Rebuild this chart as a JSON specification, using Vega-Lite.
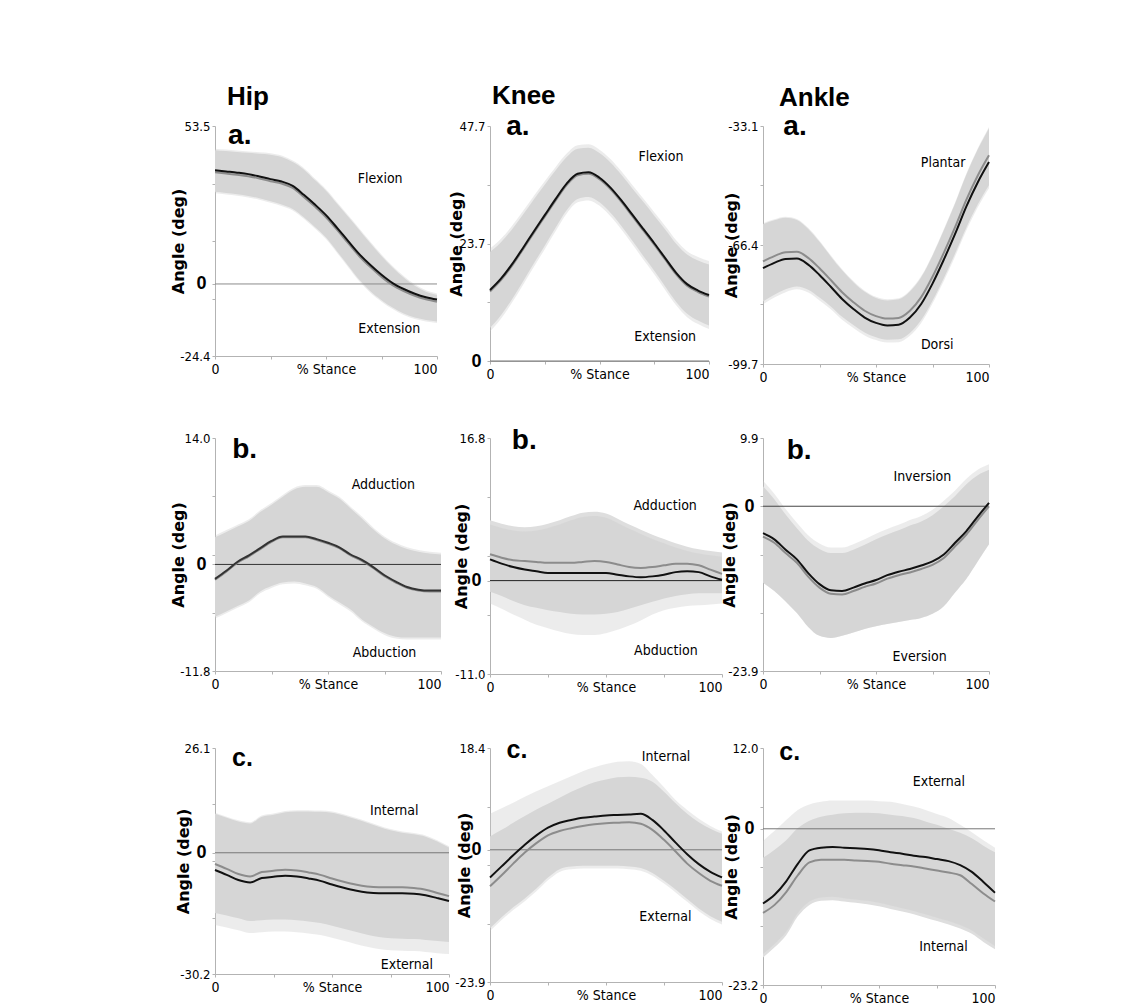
{
"$schema": "https://vega.github.io/schema/vega-lite/v6.json",
"padding": {"left": 170, "top": 83, "right": 10, "bottom": 0},
"columns": 3,
"bounds": "flush",
"spacing": {"row": 74, "column": 41},
"config": {
 "view": {"stroke": null},
 "axis": {"domainColor": "#b3b3b3", "tickColor": "#b3b3b3", "tickSize": 3, "grid": false, "labelColor": "#000", "labelFont": "DejaVu Sans Condensed, Roboto, sans-serif", "titleFont": "DejaVu Sans", "titleFontWeight": "bold", "titleFontSize": 16, "titleColor": "#000", "labelOverlap": false},
 "title": {"font": "Liberation Sans", "fontSize": 26, "fontWeight": "bold", "anchor": "start", "frame": "group", "baseline": "alphabetic", "color": "#000"}
},
"datasets": {
"d": [
{"p":"ha","x":0,"a":38.5,"b":37.8,"l1":31.2,"h1":45.3,"l2":30.7,"h2":45.8},
{"p":"ha","x":5,"a":38.1,"b":37.4,"l1":30.8,"h1":45.0,"l2":30.3,"h2":45.5},
{"p":"ha","x":10,"a":37.7,"b":37.0,"l1":30.4,"h1":44.7,"l2":29.9,"h2":45.2},
{"p":"ha","x":15,"a":37.2,"b":36.5,"l1":29.8,"h1":44.4,"l2":29.3,"h2":44.9},
{"p":"ha","x":20,"a":36.4,"b":35.7,"l1":29.0,"h1":44.1,"l2":28.5,"h2":44.6},
{"p":"ha","x":25,"a":35.5,"b":34.8,"l1":28.0,"h1":43.8,"l2":27.5,"h2":44.3},
{"p":"ha","x":30,"a":34.7,"b":34.0,"l1":26.9,"h1":43.0,"l2":26.4,"h2":43.5},
{"p":"ha","x":35,"a":33.2,"b":32.5,"l1":25.4,"h1":41.3,"l2":24.9,"h2":41.8},
{"p":"ha","x":40,"a":30.2,"b":29.5,"l1":22.6,"h1":38.8,"l2":22.1,"h2":39.3},
{"p":"ha","x":45,"a":26.9,"b":26.2,"l1":19.3,"h1":35.2,"l2":18.8,"h2":35.7},
{"p":"ha","x":50,"a":23.3,"b":22.6,"l1":15.7,"h1":31.6,"l2":15.2,"h2":32.1},
{"p":"ha","x":55,"a":19.0,"b":18.3,"l1":11.0,"h1":27.2,"l2":10.5,"h2":27.7},
{"p":"ha","x":60,"a":14.5,"b":13.8,"l1":6.2,"h1":22.8,"l2":5.7,"h2":23.3},
{"p":"ha","x":65,"a":10.1,"b":9.4,"l1":1.4,"h1":18.3,"l2":0.9,"h2":18.8},
{"p":"ha","x":70,"a":6.4,"b":5.7,"l1":-2.5,"h1":13.8,"l2":-3.0,"h2":14.3},
{"p":"ha","x":75,"a":3.1,"b":2.4,"l1":-5.5,"h1":9.5,"l2":-6.0,"h2":10.0},
{"p":"ha","x":80,"a":0.3,"b":-0.4,"l1":-8.0,"h1":5.6,"l2":-8.5,"h2":6.1},
{"p":"ha","x":85,"a":-1.7,"b":-2.4,"l1":-10.0,"h1":2.2,"l2":-10.5,"h2":2.7},
{"p":"ha","x":90,"a":-3.3,"b":-4.0,"l1":-11.4,"h1":-0.6,"l2":-11.9,"h2":-0.1},
{"p":"ha","x":95,"a":-4.5,"b":-5.2,"l1":-12.2,"h1":-2.6,"l2":-12.7,"h2":-2.1},
{"p":"ha","x":100,"a":-5.3,"b":-6.0,"l1":-12.7,"h1":-3.7,"l2":-13.2,"h2":-3.2},
{"p":"ka","x":0,"a":14.4,"b":14.1,"l1":6.7,"h1":22.1,"l2":6.0,"h2":22.8},
{"p":"ka","x":5,"a":16.7,"b":16.4,"l1":9.3,"h1":24.1,"l2":8.6,"h2":24.8},
{"p":"ka","x":10,"a":19.6,"b":19.3,"l1":12.5,"h1":26.7,"l2":11.8,"h2":27.4},
{"p":"ka","x":15,"a":22.9,"b":22.6,"l1":16.1,"h1":29.7,"l2":15.4,"h2":30.4},
{"p":"ka","x":20,"a":26.3,"b":26.0,"l1":19.8,"h1":32.8,"l2":19.1,"h2":33.5},
{"p":"ka","x":25,"a":29.6,"b":29.3,"l1":23.4,"h1":35.8,"l2":22.7,"h2":36.5},
{"p":"ka","x":30,"a":32.9,"b":32.6,"l1":27.1,"h1":38.7,"l2":26.4,"h2":39.4},
{"p":"ka","x":35,"a":36.0,"b":35.7,"l1":30.6,"h1":41.4,"l2":29.9,"h2":42.1},
{"p":"ka","x":40,"a":38.0,"b":37.7,"l1":32.9,"h1":43.1,"l2":32.2,"h2":43.8},
{"p":"ka","x":45,"a":38.3,"b":38.0,"l1":33.3,"h1":43.3,"l2":32.6,"h2":44.0},
{"p":"ka","x":50,"a":37.2,"b":36.9,"l1":32.2,"h1":42.2,"l2":31.5,"h2":42.9},
{"p":"ka","x":55,"a":35.2,"b":34.9,"l1":30.1,"h1":40.3,"l2":29.4,"h2":41.0},
{"p":"ka","x":60,"a":32.6,"b":32.3,"l1":27.4,"h1":37.8,"l2":26.7,"h2":38.5},
{"p":"ka","x":65,"a":29.7,"b":29.4,"l1":24.4,"h1":35.0,"l2":23.7,"h2":35.7},
{"p":"ka","x":70,"a":26.8,"b":26.5,"l1":21.3,"h1":32.3,"l2":20.6,"h2":33.0},
{"p":"ka","x":75,"a":23.9,"b":23.6,"l1":18.3,"h1":29.5,"l2":17.6,"h2":30.2},
{"p":"ka","x":80,"a":20.9,"b":20.6,"l1":15.1,"h1":26.7,"l2":14.4,"h2":27.4},
{"p":"ka","x":85,"a":17.9,"b":17.6,"l1":12.0,"h1":23.8,"l2":11.3,"h2":24.5},
{"p":"ka","x":90,"a":15.6,"b":15.3,"l1":9.6,"h1":21.6,"l2":8.9,"h2":22.3},
{"p":"ka","x":95,"a":14.3,"b":14.0,"l1":8.2,"h1":20.4,"l2":7.5,"h2":21.1},
{"p":"ka","x":100,"a":13.4,"b":13.1,"l1":7.2,"h1":19.6,"l2":6.5,"h2":20.3},
{"p":"aa","x":0,"a":-72.9,"b":-71.0,"l1":-82.2,"h1":-60.6,"l2":-83.0,"h2":-60.3},
{"p":"aa","x":5,"a":-71.4,"b":-69.5,"l1":-80.3,"h1":-59.5,"l2":-81.1,"h2":-59.2},
{"p":"aa","x":10,"a":-70.3,"b":-68.4,"l1":-78.8,"h1":-58.8,"l2":-79.6,"h2":-58.5},
{"p":"aa","x":15,"a":-70.2,"b":-68.3,"l1":-78.0,"h1":-59.4,"l2":-78.8,"h2":-59.1},
{"p":"aa","x":20,"a":-71.9,"b":-70.0,"l1":-78.9,"h1":-61.9,"l2":-79.7,"h2":-61.6},
{"p":"aa","x":25,"a":-74.8,"b":-72.9,"l1":-81.1,"h1":-65.5,"l2":-81.9,"h2":-65.2},
{"p":"aa","x":30,"a":-78.1,"b":-76.2,"l1":-83.6,"h1":-69.6,"l2":-84.4,"h2":-69.3},
{"p":"aa","x":35,"a":-81.5,"b":-79.6,"l1":-86.5,"h1":-73.5,"l2":-87.3,"h2":-73.2},
{"p":"aa","x":40,"a":-84.3,"b":-82.4,"l1":-88.8,"h1":-76.8,"l2":-89.6,"h2":-76.5},
{"p":"aa","x":45,"a":-86.7,"b":-84.8,"l1":-90.9,"h1":-79.5,"l2":-91.7,"h2":-79.2},
{"p":"aa","x":50,"a":-88.2,"b":-86.3,"l1":-92.2,"h1":-81.2,"l2":-93.0,"h2":-80.9},
{"p":"aa","x":55,"a":-88.9,"b":-87.0,"l1":-92.9,"h1":-81.9,"l2":-93.7,"h2":-81.6},
{"p":"aa","x":60,"a":-88.7,"b":-86.8,"l1":-92.8,"h1":-81.6,"l2":-93.6,"h2":-81.3},
{"p":"aa","x":65,"a":-86.7,"b":-84.8,"l1":-91.0,"h1":-79.4,"l2":-91.8,"h2":-79.1},
{"p":"aa","x":70,"a":-82.9,"b":-81.0,"l1":-87.4,"h1":-75.4,"l2":-88.2,"h2":-75.1},
{"p":"aa","x":75,"a":-77.2,"b":-75.3,"l1":-82.0,"h1":-69.4,"l2":-82.8,"h2":-69.1},
{"p":"aa","x":80,"a":-70.5,"b":-68.6,"l1":-75.7,"h1":-62.3,"l2":-76.5,"h2":-62.0},
{"p":"aa","x":85,"a":-63.3,"b":-61.4,"l1":-68.8,"h1":-54.8,"l2":-69.6,"h2":-54.5},
{"p":"aa","x":90,"a":-55.6,"b":-53.7,"l1":-61.5,"h1":-46.7,"l2":-62.3,"h2":-46.4},
{"p":"aa","x":95,"a":-48.9,"b":-47.0,"l1":-55.1,"h1":-39.7,"l2":-55.9,"h2":-39.4},
{"p":"aa","x":100,"a":-43.2,"b":-41.3,"l1":-49.7,"h1":-33.7,"l2":-50.5,"h2":-33.4},
{"p":"hb","x":0,"a":-1.6,"b":-1.7,"l1":-5.8,"h1":3.0,"l2":-6.0,"h2":3.2},
{"p":"hb","x":5,"a":-0.7,"b":-0.8,"l1":-5.2,"h1":3.6,"l2":-5.4,"h2":3.8},
{"p":"hb","x":10,"a":0.3,"b":0.2,"l1":-4.6,"h1":4.2,"l2":-4.8,"h2":4.4},
{"p":"hb","x":15,"a":1.0,"b":0.9,"l1":-4.0,"h1":4.8,"l2":-4.2,"h2":5.0},
{"p":"hb","x":20,"a":1.8,"b":1.7,"l1":-3.0,"h1":5.8,"l2":-3.2,"h2":6.0},
{"p":"hb","x":25,"a":2.6,"b":2.5,"l1":-2.4,"h1":6.6,"l2":-2.6,"h2":6.8},
{"p":"hb","x":30,"a":3.1,"b":3.0,"l1":-2.0,"h1":7.5,"l2":-2.2,"h2":7.7},
{"p":"hb","x":35,"a":3.1,"b":3.0,"l1":-1.9,"h1":8.3,"l2":-2.1,"h2":8.5},
{"p":"hb","x":40,"a":3.1,"b":3.0,"l1":-2.1,"h1":8.6,"l2":-2.3,"h2":8.8},
{"p":"hb","x":45,"a":2.8,"b":2.7,"l1":-2.5,"h1":8.6,"l2":-2.7,"h2":8.8},
{"p":"hb","x":50,"a":2.4,"b":2.3,"l1":-3.4,"h1":8.0,"l2":-3.6,"h2":8.2},
{"p":"hb","x":55,"a":1.9,"b":1.8,"l1":-4.2,"h1":7.3,"l2":-4.4,"h2":7.5},
{"p":"hb","x":60,"a":1.1,"b":1.0,"l1":-5.0,"h1":6.2,"l2":-5.2,"h2":6.4},
{"p":"hb","x":65,"a":0.5,"b":0.4,"l1":-6.1,"h1":5.1,"l2":-6.3,"h2":5.3},
{"p":"hb","x":70,"a":-0.3,"b":-0.4,"l1":-6.9,"h1":3.9,"l2":-7.1,"h2":4.1},
{"p":"hb","x":75,"a":-1.2,"b":-1.3,"l1":-7.6,"h1":2.9,"l2":-7.8,"h2":3.1},
{"p":"hb","x":80,"a":-1.9,"b":-2.0,"l1":-8.0,"h1":2.2,"l2":-8.2,"h2":2.4},
{"p":"hb","x":85,"a":-2.5,"b":-2.6,"l1":-8.1,"h1":1.7,"l2":-8.3,"h2":1.9},
{"p":"hb","x":90,"a":-2.8,"b":-2.9,"l1":-8.1,"h1":1.4,"l2":-8.3,"h2":1.6},
{"p":"hb","x":95,"a":-2.9,"b":-3.0,"l1":-8.1,"h1":1.2,"l2":-8.3,"h2":1.4},
{"p":"hb","x":100,"a":-2.9,"b":-3.0,"l1":-8.1,"h1":1.1,"l2":-8.3,"h2":1.3},
{"p":"kb","x":0,"a":2.5,"b":3.1,"l1":-1.3,"h1":7.1,"l2":-2.7,"h2":6.6},
{"p":"kb","x":5,"a":2.0,"b":2.7,"l1":-1.8,"h1":6.7,"l2":-3.3,"h2":6.2},
{"p":"kb","x":10,"a":1.6,"b":2.4,"l1":-2.4,"h1":6.4,"l2":-4.0,"h2":5.9},
{"p":"kb","x":15,"a":1.3,"b":2.3,"l1":-2.9,"h1":6.3,"l2":-4.6,"h2":5.8},
{"p":"kb","x":20,"a":1.1,"b":2.2,"l1":-3.2,"h1":6.4,"l2":-5.2,"h2":5.9},
{"p":"kb","x":25,"a":0.9,"b":2.1,"l1":-3.5,"h1":6.7,"l2":-5.6,"h2":6.2},
{"p":"kb","x":30,"a":0.9,"b":2.1,"l1":-3.7,"h1":7.1,"l2":-6.0,"h2":6.6},
{"p":"kb","x":35,"a":0.9,"b":2.1,"l1":-3.9,"h1":7.6,"l2":-6.3,"h2":7.1},
{"p":"kb","x":40,"a":0.9,"b":2.2,"l1":-4.0,"h1":8.0,"l2":-6.4,"h2":7.5},
{"p":"kb","x":45,"a":0.9,"b":2.3,"l1":-4.0,"h1":8.1,"l2":-6.4,"h2":7.6},
{"p":"kb","x":50,"a":0.9,"b":2.2,"l1":-3.9,"h1":7.9,"l2":-6.2,"h2":7.4},
{"p":"kb","x":55,"a":0.7,"b":1.9,"l1":-3.7,"h1":7.3,"l2":-5.8,"h2":6.8},
{"p":"kb","x":60,"a":0.5,"b":1.6,"l1":-3.3,"h1":6.6,"l2":-5.3,"h2":6.1},
{"p":"kb","x":65,"a":0.4,"b":1.5,"l1":-2.9,"h1":6.0,"l2":-4.7,"h2":5.5},
{"p":"kb","x":70,"a":0.5,"b":1.6,"l1":-2.5,"h1":5.4,"l2":-4.0,"h2":4.9},
{"p":"kb","x":75,"a":0.7,"b":1.8,"l1":-2.1,"h1":4.9,"l2":-3.5,"h2":4.4},
{"p":"kb","x":80,"a":1.0,"b":2.0,"l1":-1.8,"h1":4.4,"l2":-3.2,"h2":3.9},
{"p":"kb","x":85,"a":1.1,"b":2.0,"l1":-1.6,"h1":4.0,"l2":-3.0,"h2":3.5},
{"p":"kb","x":90,"a":1.0,"b":1.8,"l1":-1.5,"h1":3.7,"l2":-2.9,"h2":3.2},
{"p":"kb","x":95,"a":0.5,"b":1.3,"l1":-1.5,"h1":3.5,"l2":-2.8,"h2":3.0},
{"p":"kb","x":100,"a":0.1,"b":0.8,"l1":-1.5,"h1":3.3,"l2":-2.7,"h2":2.8},
{"p":"ab","x":0,"a":-3.9,"b":-4.4,"l1":-11.1,"h1":2.9,"l2":-11.1,"h2":3.7},
{"p":"ab","x":5,"a":-4.8,"b":-5.3,"l1":-12.3,"h1":1.0,"l2":-12.3,"h2":1.8},
{"p":"ab","x":10,"a":-6.3,"b":-6.8,"l1":-13.8,"h1":-1.2,"l2":-13.8,"h2":-0.4},
{"p":"ab","x":15,"a":-7.7,"b":-8.2,"l1":-15.5,"h1":-3.2,"l2":-15.5,"h2":-2.4},
{"p":"ab","x":20,"a":-9.7,"b":-10.2,"l1":-17.5,"h1":-5.0,"l2":-17.5,"h2":-4.2},
{"p":"ab","x":25,"a":-11.3,"b":-11.8,"l1":-18.8,"h1":-6.2,"l2":-18.8,"h2":-5.4},
{"p":"ab","x":30,"a":-12.2,"b":-12.7,"l1":-19.1,"h1":-6.8,"l2":-19.1,"h2":-6.0},
{"p":"ab","x":35,"a":-12.3,"b":-12.8,"l1":-18.8,"h1":-6.8,"l2":-18.8,"h2":-6.0},
{"p":"ab","x":40,"a":-11.8,"b":-12.3,"l1":-18.3,"h1":-6.3,"l2":-18.3,"h2":-5.5},
{"p":"ab","x":45,"a":-11.2,"b":-11.7,"l1":-17.8,"h1":-5.6,"l2":-17.8,"h2":-4.8},
{"p":"ab","x":50,"a":-10.7,"b":-11.2,"l1":-17.4,"h1":-4.8,"l2":-17.4,"h2":-4.0},
{"p":"ab","x":55,"a":-10.0,"b":-10.5,"l1":-17.1,"h1":-4.1,"l2":-17.1,"h2":-3.3},
{"p":"ab","x":60,"a":-9.5,"b":-10.0,"l1":-16.8,"h1":-3.5,"l2":-16.8,"h2":-2.7},
{"p":"ab","x":65,"a":-9.1,"b":-9.6,"l1":-16.5,"h1":-2.8,"l2":-16.5,"h2":-2.0},
{"p":"ab","x":70,"a":-8.6,"b":-9.1,"l1":-16.2,"h1":-2.2,"l2":-16.2,"h2":-1.4},
{"p":"ab","x":75,"a":-8.0,"b":-8.5,"l1":-15.6,"h1":-1.3,"l2":-15.6,"h2":-0.5},
{"p":"ab","x":80,"a":-7.0,"b":-7.5,"l1":-14.5,"h1":0.0,"l2":-14.5,"h2":0.8},
{"p":"ab","x":85,"a":-5.3,"b":-5.8,"l1":-12.5,"h1":1.5,"l2":-12.5,"h2":2.3},
{"p":"ab","x":90,"a":-3.6,"b":-4.1,"l1":-10.5,"h1":3.2,"l2":-10.5,"h2":4.0},
{"p":"ab","x":95,"a":-1.5,"b":-2.0,"l1":-8.0,"h1":4.5,"l2":-8.0,"h2":5.3},
{"p":"ab","x":100,"a":0.5,"b":0.0,"l1":-5.5,"h1":5.3,"l2":-5.5,"h2":6.1},
{"p":"hc","x":0,"a":-4.3,"b":-2.8,"l1":-15.0,"h1":9.7,"l2":-18.0,"h2":10.0},
{"p":"hc","x":5,"a":-5.5,"b":-4.0,"l1":-15.6,"h1":8.7,"l2":-18.6,"h2":9.0},
{"p":"hc","x":10,"a":-6.8,"b":-5.3,"l1":-16.3,"h1":7.8,"l2":-19.3,"h2":8.1},
{"p":"hc","x":15,"a":-7.4,"b":-5.9,"l1":-17.0,"h1":7.3,"l2":-20.0,"h2":7.6},
{"p":"hc","x":20,"a":-6.3,"b":-4.8,"l1":-16.8,"h1":9.0,"l2":-19.8,"h2":9.3},
{"p":"hc","x":25,"a":-6.0,"b":-4.5,"l1":-16.6,"h1":9.5,"l2":-19.6,"h2":9.8},
{"p":"hc","x":30,"a":-5.7,"b":-4.2,"l1":-16.6,"h1":10.1,"l2":-19.6,"h2":10.4},
{"p":"hc","x":35,"a":-5.9,"b":-4.4,"l1":-16.8,"h1":10.3,"l2":-19.8,"h2":10.6},
{"p":"hc","x":40,"a":-6.4,"b":-4.9,"l1":-17.1,"h1":10.3,"l2":-20.1,"h2":10.6},
{"p":"hc","x":45,"a":-7.0,"b":-5.5,"l1":-17.5,"h1":10.2,"l2":-20.5,"h2":10.5},
{"p":"hc","x":50,"a":-7.9,"b":-6.4,"l1":-18.2,"h1":10.0,"l2":-21.2,"h2":10.3},
{"p":"hc","x":55,"a":-8.7,"b":-7.2,"l1":-18.9,"h1":9.3,"l2":-21.9,"h2":9.6},
{"p":"hc","x":60,"a":-9.4,"b":-7.9,"l1":-19.7,"h1":8.4,"l2":-22.7,"h2":8.7},
{"p":"hc","x":65,"a":-9.9,"b":-8.4,"l1":-20.4,"h1":7.5,"l2":-23.4,"h2":7.8},
{"p":"hc","x":70,"a":-10.1,"b":-8.6,"l1":-21.0,"h1":6.5,"l2":-24.0,"h2":6.8},
{"p":"hc","x":75,"a":-10.1,"b":-8.6,"l1":-21.3,"h1":5.6,"l2":-24.3,"h2":5.9},
{"p":"hc","x":80,"a":-10.1,"b":-8.6,"l1":-21.4,"h1":5.0,"l2":-24.4,"h2":5.3},
{"p":"hc","x":85,"a":-10.2,"b":-8.8,"l1":-21.5,"h1":4.6,"l2":-24.5,"h2":4.9},
{"p":"hc","x":90,"a":-10.6,"b":-9.2,"l1":-21.7,"h1":4.0,"l2":-24.7,"h2":4.3},
{"p":"hc","x":95,"a":-11.3,"b":-10.0,"l1":-22.0,"h1":2.8,"l2":-25.0,"h2":3.1},
{"p":"hc","x":100,"a":-12.0,"b":-10.8,"l1":-22.2,"h1":1.3,"l2":-25.2,"h2":1.6},
{"p":"kc","x":0,"a":-5.0,"b":-6.6,"l1":-14.2,"h1":2.4,"l2":-14.7,"h2":6.5},
{"p":"kc","x":5,"a":-3.0,"b":-4.6,"l1":-12.2,"h1":3.6,"l2":-12.7,"h2":7.5},
{"p":"kc","x":10,"a":-1.0,"b":-2.5,"l1":-10.4,"h1":4.9,"l2":-10.9,"h2":8.5},
{"p":"kc","x":15,"a":0.9,"b":-0.5,"l1":-8.8,"h1":6.1,"l2":-9.3,"h2":9.6},
{"p":"kc","x":20,"a":2.6,"b":1.2,"l1":-7.0,"h1":7.3,"l2":-7.5,"h2":10.6},
{"p":"kc","x":25,"a":4.0,"b":2.6,"l1":-5.0,"h1":8.3,"l2":-5.5,"h2":11.5},
{"p":"kc","x":30,"a":4.9,"b":3.4,"l1":-3.5,"h1":9.4,"l2":-4.0,"h2":12.4},
{"p":"kc","x":35,"a":5.4,"b":3.9,"l1":-3.0,"h1":10.5,"l2":-3.5,"h2":13.3},
{"p":"kc","x":40,"a":5.8,"b":4.3,"l1":-2.9,"h1":11.4,"l2":-3.4,"h2":14.2},
{"p":"kc","x":45,"a":6.0,"b":4.6,"l1":-2.9,"h1":12.2,"l2":-3.4,"h2":14.9},
{"p":"kc","x":50,"a":6.2,"b":4.8,"l1":-2.9,"h1":12.7,"l2":-3.4,"h2":15.5},
{"p":"kc","x":55,"a":6.3,"b":4.9,"l1":-2.9,"h1":13.1,"l2":-3.4,"h2":15.9},
{"p":"kc","x":60,"a":6.4,"b":5.0,"l1":-3.0,"h1":13.2,"l2":-3.5,"h2":16.0},
{"p":"kc","x":65,"a":6.5,"b":4.7,"l1":-3.3,"h1":13.0,"l2":-3.8,"h2":15.5},
{"p":"kc","x":70,"a":5.4,"b":3.6,"l1":-4.2,"h1":12.3,"l2":-4.7,"h2":13.5},
{"p":"kc","x":75,"a":3.5,"b":1.8,"l1":-5.6,"h1":10.5,"l2":-6.1,"h2":11.3},
{"p":"kc","x":80,"a":1.3,"b":-0.3,"l1":-7.2,"h1":8.4,"l2":-7.7,"h2":9.0},
{"p":"kc","x":85,"a":-0.8,"b":-2.5,"l1":-8.9,"h1":6.5,"l2":-9.4,"h2":7.2},
{"p":"kc","x":90,"a":-2.6,"b":-4.2,"l1":-10.6,"h1":5.0,"l2":-11.1,"h2":5.6},
{"p":"kc","x":95,"a":-4.0,"b":-5.6,"l1":-12.0,"h1":3.8,"l2":-12.5,"h2":4.3},
{"p":"kc","x":100,"a":-5.0,"b":-6.5,"l1":-13.0,"h1":2.9,"l2":-13.5,"h2":3.3},
{"p":"ac","x":0,"a":-11.1,"b":-12.5,"l1":-19.1,"h1":-4.3,"l2":-18.6,"h2":-1.8},
{"p":"ac","x":5,"a":-9.8,"b":-11.3,"l1":-17.6,"h1":-3.1,"l2":-17.1,"h2":-0.3},
{"p":"ac","x":10,"a":-7.8,"b":-9.4,"l1":-15.8,"h1":-1.7,"l2":-15.3,"h2":1.3},
{"p":"ac","x":15,"a":-5.2,"b":-6.9,"l1":-13.0,"h1":0.1,"l2":-12.5,"h2":2.8},
{"p":"ac","x":20,"a":-3.2,"b":-5.0,"l1":-11.3,"h1":1.2,"l2":-10.8,"h2":3.6},
{"p":"ac","x":25,"a":-2.8,"b":-4.6,"l1":-10.7,"h1":1.8,"l2":-10.2,"h2":4.0},
{"p":"ac","x":30,"a":-2.7,"b":-4.6,"l1":-10.6,"h1":2.1,"l2":-10.1,"h2":4.2},
{"p":"ac","x":35,"a":-2.8,"b":-4.6,"l1":-10.8,"h1":2.3,"l2":-10.3,"h2":4.2},
{"p":"ac","x":40,"a":-2.9,"b":-4.7,"l1":-11.0,"h1":2.4,"l2":-10.5,"h2":4.2},
{"p":"ac","x":45,"a":-3.0,"b":-4.8,"l1":-11.2,"h1":2.4,"l2":-10.7,"h2":4.2},
{"p":"ac","x":50,"a":-3.2,"b":-4.9,"l1":-11.5,"h1":2.3,"l2":-11.0,"h2":4.1},
{"p":"ac","x":55,"a":-3.5,"b":-5.2,"l1":-11.9,"h1":2.1,"l2":-11.4,"h2":4.0},
{"p":"ac","x":60,"a":-3.7,"b":-5.4,"l1":-12.3,"h1":1.9,"l2":-11.8,"h2":3.7},
{"p":"ac","x":65,"a":-4.0,"b":-5.6,"l1":-12.7,"h1":1.6,"l2":-12.2,"h2":3.3},
{"p":"ac","x":70,"a":-4.2,"b":-5.9,"l1":-13.2,"h1":1.1,"l2":-12.7,"h2":2.8},
{"p":"ac","x":75,"a":-4.5,"b":-6.2,"l1":-13.7,"h1":0.6,"l2":-13.2,"h2":2.2},
{"p":"ac","x":80,"a":-4.8,"b":-6.5,"l1":-14.2,"h1":0.0,"l2":-13.7,"h2":1.6},
{"p":"ac","x":85,"a":-5.4,"b":-6.9,"l1":-14.8,"h1":-0.6,"l2":-14.3,"h2":0.6},
{"p":"ac","x":90,"a":-6.4,"b":-8.2,"l1":-15.6,"h1":-1.4,"l2":-15.1,"h2":-0.5},
{"p":"ac","x":95,"a":-7.9,"b":-9.6,"l1":-16.8,"h1":-2.5,"l2":-16.3,"h2":-1.7},
{"p":"ac","x":100,"a":-9.5,"b":-10.8,"l1":-17.9,"h1":-3.5,"l2":-17.4,"h2":-2.8}
],
"ann": [
{"p":"ha","k":"L","x":5.9,"y":47.5,"t":"a."},
{"p":"ha","k":"T","x":74.4,"y":34.1,"t":"Flexion"},
{"p":"ha","k":"T","x":78.5,"y":-16.5,"t":"Extension"},
{"p":"ka","k":"L","x":7.4,"y":45.8,"t":"a."},
{"p":"ka","k":"T","x":78.1,"y":40.5,"t":"Flexion"},
{"p":"ka","k":"T","x":80,"y":4.1,"t":"Extension"},
{"p":"aa","k":"L","x":9.0,"y":-35.6,"t":"a."},
{"p":"aa","k":"T","x":79.7,"y":-44.6,"t":"Plantar"},
{"p":"aa","k":"T","x":77.1,"y":-95.6,"t":"Dorsi"},
{"p":"hb","k":"L","x":7.6,"y":11.8,"t":"b."},
{"p":"hb","k":"T","x":74.5,"y":8.3,"t":"Adduction"},
{"p":"hb","k":"T","x":75.0,"y":-10.3,"t":"Abduction"},
{"p":"kb","k":"L","x":9.4,"y":15.5,"t":"b."},
{"p":"kb","k":"T","x":75.5,"y":8.3,"t":"Adduction"},
{"p":"kb","k":"T","x":75.8,"y":-8.8,"t":"Abduction"},
{"p":"ab","k":"L","x":10.5,"y":6.8,"t":"b."},
{"p":"ab","k":"T","x":70.5,"y":3.6,"t":"Inversion"},
{"p":"ab","k":"T","x":69.3,"y":-22.5,"t":"Eversion"},
{"p":"hc","k":"L","x":7.3,"y":21.7,"t":"c."},
{"p":"hc","k":"T","x":76.6,"y":9.3,"t":"Internal"},
{"p":"hc","k":"T","x":82,"y":-29.0,"t":"External"},
{"p":"kc","k":"L","x":7.1,"y":16.6,"t":"c."},
{"p":"kc","k":"T","x":75.9,"y":16.0,"t":"Internal"},
{"p":"kc","k":"T","x":75.6,"y":-12.9,"t":"External"},
{"p":"ac","k":"L","x":7.0,"y":10.2,"t":"c."},
{"p":"ac","k":"T","x":75.8,"y":6.4,"t":"External"},
{"p":"ac","k":"T","x":77.8,"y":-18.1,"t":"Internal"}
]
},
"concat": [
{
 "width": 222, "height": 230,
 "title": {"text": "Hip", "dx": 12, "offset": 10},
 "data": {"name": "d"},
 "transform": [{"filter": "datum.p == 'ha'"}],
 "layer": [
  {"mark": {"type": "area", "color": "#dedede", "interpolate": "monotone"}, "encoding": {
    "x": {"field": "x", "type": "quantitative", "scale": {"domain": [0, 100], "nice": false}, "axis": {"title": null, "values": [0, 25, 50, 75, 100], "labelExpr": "datum.value == 50 ? '% Stance' : (datum.value == 0 || datum.value == 100) ? datum.label : ''", "labelFlush": false, "labelAlign": {"condition": {"test": "datum.value == 100", "value": "right"}, "value": "center"}, "labelFontSize": 14, "labelPadding": 3}},
    "y": {"field": "l1", "type": "quantitative", "scale": {"domain": [-24.4, 53.5], "nice": false, "zero": false}, "axis": {"title": "Angle (deg)", "titlePadding": 0, "minExtent": 29, "maxExtent": 29, "values": [-24.4, -4.925, 0, 14.55, 34.025, 53.5], "labelExpr": "datum.value == 53.5 ? '53.5' : datum.value == -24.4 ? '-24.4' : datum.value == 0 ? '0' : ''", "labelFontSize": {"condition": {"test": "datum.value == 0", "value": 18}, "value": 13}, "labelFontWeight": {"condition": {"test": "datum.value == 0", "value": "bold"}, "value": "normal"}, "labelFont": {"condition": {"test": "datum.value == 0", "value": "Liberation Sans"}, "value": "DejaVu Sans Condensed, Roboto, sans-serif"}, "labelPadding": {"condition": {"test": "datum.value == 0", "value": 6}, "value": 2}}},
    "y2": {"field": "h1"}}},
  {"mark": {"type": "area", "color": "#c8c8c8", "opacity": 0.35, "interpolate": "monotone"}, "encoding": {"x": {"field": "x", "type": "quantitative"}, "y": {"field": "l2", "type": "quantitative"}, "y2": {"field": "h2"}}},
  {"data": {"values": [{}]}, "mark": {"type": "rule", "color": "#8c8c8c", "strokeWidth": 1}, "encoding": {"y": {"datum": 0}}},
  {"mark": {"type": "line", "color": "#8c8c8c", "strokeWidth": 2, "interpolate": "monotone"}, "encoding": {"x": {"field": "x", "type": "quantitative"}, "y": {"field": "b", "type": "quantitative"}}},
  {"mark": {"type": "line", "color": "#111111", "strokeWidth": 2, "interpolate": "monotone"}, "encoding": {"x": {"field": "x", "type": "quantitative"}, "y": {"field": "a", "type": "quantitative"}}},
  {"data": {"name": "ann"}, "transform": [{"filter": "datum.p == 'ha' && datum.k == 'L'"}], "mark": {"type": "text", "font": "Liberation Sans", "fontWeight": "bold", "fontSize": 28, "align": "left", "baseline": "alphabetic", "color": "#000"}, "encoding": {"x": {"field": "x", "type": "quantitative"}, "y": {"field": "y", "type": "quantitative"}, "text": {"field": "t"}}},
  {"data": {"name": "ann"}, "transform": [{"filter": "datum.p == 'ha' && datum.k == 'T'"}], "mark": {"type": "text", "font": "DejaVu Sans Condensed, Roboto, sans-serif", "fontSize": 14, "align": "center", "baseline": "alphabetic", "color": "#000"}, "encoding": {"x": {"field": "x", "type": "quantitative"}, "y": {"field": "y", "type": "quantitative"}, "text": {"field": "t"}}}
 ]
},
{
 "width": 219, "height": 235,
 "title": {"text": "Knee", "dx": 2, "offset": 4},
 "data": {"name": "d"},
 "transform": [{"filter": "datum.p == 'ka'"}],
 "layer": [
  {"mark": {"type": "area", "color": "#dedede", "interpolate": "monotone"}, "encoding": {
    "x": {"field": "x", "type": "quantitative", "scale": {"domain": [0, 100], "nice": false}, "axis": {"title": null, "values": [0, 25, 50, 75, 100], "labelExpr": "datum.value == 50 ? '% Stance' : (datum.value == 0 || datum.value == 100) ? datum.label : ''", "labelFlush": false, "labelAlign": {"condition": {"test": "datum.value == 100", "value": "right"}, "value": "center"}, "labelFontSize": 14, "labelPadding": 3}},
    "y": {"field": "l1", "type": "quantitative", "scale": {"domain": [0, 47.7], "nice": false, "zero": false}, "axis": {"title": "Angle (deg)", "titlePadding": 0, "minExtent": 26, "maxExtent": 26, "values": [0, 11.925, 23.85, 35.775, 47.7], "labelExpr": "datum.value == 47.7 ? '47.7' : datum.value == 23.85 ? '23.7' : datum.value == 0 ? '0' : ''", "labelFontSize": {"condition": {"test": "datum.value == 0", "value": 18}, "value": 13}, "labelFontWeight": {"condition": {"test": "datum.value == 0", "value": "bold"}, "value": "normal"}, "labelFont": {"condition": {"test": "datum.value == 0", "value": "Liberation Sans"}, "value": "DejaVu Sans Condensed, Roboto, sans-serif"}, "labelPadding": {"condition": {"test": "datum.value == 0", "value": 6}, "value": 2}}},
    "y2": {"field": "h1"}}},
  {"mark": {"type": "area", "color": "#c8c8c8", "opacity": 0.35, "interpolate": "monotone"}, "encoding": {"x": {"field": "x", "type": "quantitative"}, "y": {"field": "l2", "type": "quantitative"}, "y2": {"field": "h2"}}},
  {"data": {"values": [{}]}, "mark": {"type": "rule", "color": "#777777", "strokeWidth": 1}, "encoding": {"y": {"datum": 0}}},
  {"mark": {"type": "line", "color": "#8c8c8c", "strokeWidth": 2, "interpolate": "monotone"}, "encoding": {"x": {"field": "x", "type": "quantitative"}, "y": {"field": "b", "type": "quantitative"}}},
  {"mark": {"type": "line", "color": "#111111", "strokeWidth": 2, "interpolate": "monotone"}, "encoding": {"x": {"field": "x", "type": "quantitative"}, "y": {"field": "a", "type": "quantitative"}}},
  {"data": {"name": "ann"}, "transform": [{"filter": "datum.p == 'ka' && datum.k == 'L'"}], "mark": {"type": "text", "font": "Liberation Sans", "fontWeight": "bold", "fontSize": 28, "align": "left", "baseline": "alphabetic", "color": "#000"}, "encoding": {"x": {"field": "x", "type": "quantitative"}, "y": {"field": "y", "type": "quantitative"}, "text": {"field": "t"}}},
  {"data": {"name": "ann"}, "transform": [{"filter": "datum.p == 'ka' && datum.k == 'T'"}], "mark": {"type": "text", "font": "DejaVu Sans Condensed, Roboto, sans-serif", "fontSize": 14, "align": "center", "baseline": "alphabetic", "color": "#000"}, "encoding": {"x": {"field": "x", "type": "quantitative"}, "y": {"field": "y", "type": "quantitative"}, "text": {"field": "t"}}}
 ]
},
{
 "width": 226, "height": 238,
 "title": {"text": "Ankle", "dx": 16, "offset": 2},
 "data": {"name": "d"},
 "transform": [{"filter": "datum.p == 'aa'"}],
 "layer": [
  {"mark": {"type": "area", "color": "#dedede", "interpolate": "monotone"}, "encoding": {
    "x": {"field": "x", "type": "quantitative", "scale": {"domain": [0, 100], "nice": false}, "axis": {"title": null, "values": [0, 25, 50, 75, 100], "labelExpr": "datum.value == 50 ? '% Stance' : (datum.value == 0 || datum.value == 100) ? datum.label : ''", "labelFlush": false, "labelAlign": {"condition": {"test": "datum.value == 100", "value": "right"}, "value": "center"}, "labelFontSize": 14, "labelPadding": 3}},
    "y": {"field": "l1", "type": "quantitative", "scale": {"domain": [-99.7, -33.1], "nice": false, "zero": false}, "axis": {"title": "Angle (deg)", "titlePadding": 0, "minExtent": 24, "maxExtent": 24, "values": [-99.7, -83.05, -66.4, -49.75, -33.1], "labelExpr": "datum.value == -33.1 ? '-33.1' : datum.value == -66.4 ? '-66.4' : datum.value == -99.7 ? '-99.7' : ''", "labelFontSize": 13, "labelPadding": 2}},
    "y2": {"field": "h1"}}},
  {"mark": {"type": "area", "color": "#c8c8c8", "opacity": 0.35, "interpolate": "monotone"}, "encoding": {"x": {"field": "x", "type": "quantitative"}, "y": {"field": "l2", "type": "quantitative"}, "y2": {"field": "h2"}}},
  {"mark": {"type": "line", "color": "#8c8c8c", "strokeWidth": 2, "interpolate": "monotone"}, "encoding": {"x": {"field": "x", "type": "quantitative"}, "y": {"field": "b", "type": "quantitative"}}},
  {"mark": {"type": "line", "color": "#111111", "strokeWidth": 2, "interpolate": "monotone"}, "encoding": {"x": {"field": "x", "type": "quantitative"}, "y": {"field": "a", "type": "quantitative"}}},
  {"data": {"name": "ann"}, "transform": [{"filter": "datum.p == 'aa' && datum.k == 'L'"}], "mark": {"type": "text", "font": "Liberation Sans", "fontWeight": "bold", "fontSize": 28, "align": "left", "baseline": "alphabetic", "color": "#000"}, "encoding": {"x": {"field": "x", "type": "quantitative"}, "y": {"field": "y", "type": "quantitative"}, "text": {"field": "t"}}},
  {"data": {"name": "ann"}, "transform": [{"filter": "datum.p == 'aa' && datum.k == 'T'"}], "mark": {"type": "text", "font": "DejaVu Sans Condensed, Roboto, sans-serif", "fontSize": 14, "align": "center", "baseline": "alphabetic", "color": "#000"}, "encoding": {"x": {"field": "x", "type": "quantitative"}, "y": {"field": "y", "type": "quantitative"}, "text": {"field": "t"}}}
 ]
},
{
 "width": 226, "height": 233,
 "data": {"name": "d"},
 "transform": [{"filter": "datum.p == 'hb'"}],
 "layer": [
  {"mark": {"type": "area", "color": "#dedede", "interpolate": "monotone"}, "encoding": {
    "x": {"field": "x", "type": "quantitative", "scale": {"domain": [0, 100], "nice": false}, "axis": {"title": null, "values": [0, 25, 50, 75, 100], "labelExpr": "datum.value == 50 ? '% Stance' : (datum.value == 0 || datum.value == 100) ? datum.label : ''", "labelFlush": false, "labelAlign": {"condition": {"test": "datum.value == 100", "value": "right"}, "value": "center"}, "labelFontSize": 14, "labelPadding": 3}},
    "y": {"field": "l1", "type": "quantitative", "scale": {"domain": [-11.8, 14.0], "nice": false, "zero": false}, "axis": {"title": "Angle (deg)", "titlePadding": 0, "minExtent": 29, "maxExtent": 29, "values": [-11.8, -5.35, 0, 1.1, 7.55, 14.0], "labelExpr": "datum.value == 14 ? '14.0' : datum.value == -11.8 ? '-11.8' : datum.value == 0 ? '0' : ''", "labelFontSize": {"condition": {"test": "datum.value == 0", "value": 18}, "value": 13}, "labelFontWeight": {"condition": {"test": "datum.value == 0", "value": "bold"}, "value": "normal"}, "labelFont": {"condition": {"test": "datum.value == 0", "value": "Liberation Sans"}, "value": "DejaVu Sans Condensed, Roboto, sans-serif"}, "labelPadding": {"condition": {"test": "datum.value == 0", "value": 6}, "value": 2}}},
    "y2": {"field": "h1"}}},
  {"mark": {"type": "area", "color": "#c8c8c8", "opacity": 0.35, "interpolate": "monotone"}, "encoding": {"x": {"field": "x", "type": "quantitative"}, "y": {"field": "l2", "type": "quantitative"}, "y2": {"field": "h2"}}},
  {"data": {"values": [{}]}, "mark": {"type": "rule", "color": "#333333", "strokeWidth": 1}, "encoding": {"y": {"datum": 0}}},
  {"mark": {"type": "line", "color": "#8c8c8c", "strokeWidth": 2, "interpolate": "monotone"}, "encoding": {"x": {"field": "x", "type": "quantitative"}, "y": {"field": "b", "type": "quantitative"}}},
  {"mark": {"type": "line", "color": "#333333", "strokeWidth": 2, "interpolate": "monotone"}, "encoding": {"x": {"field": "x", "type": "quantitative"}, "y": {"field": "a", "type": "quantitative"}}},
  {"data": {"name": "ann"}, "transform": [{"filter": "datum.p == 'hb' && datum.k == 'L'"}], "mark": {"type": "text", "font": "Liberation Sans", "fontWeight": "bold", "fontSize": 28, "align": "left", "baseline": "alphabetic", "color": "#000"}, "encoding": {"x": {"field": "x", "type": "quantitative"}, "y": {"field": "y", "type": "quantitative"}, "text": {"field": "t"}}},
  {"data": {"name": "ann"}, "transform": [{"filter": "datum.p == 'hb' && datum.k == 'T'"}], "mark": {"type": "text", "font": "DejaVu Sans Condensed, Roboto, sans-serif", "fontSize": 14, "align": "center", "baseline": "alphabetic", "color": "#000"}, "encoding": {"x": {"field": "x", "type": "quantitative"}, "y": {"field": "y", "type": "quantitative"}, "text": {"field": "t"}}}
 ]
},
{
 "width": 232, "height": 236,
 "data": {"name": "d"},
 "transform": [{"filter": "datum.p == 'kb'"}],
 "layer": [
  {"mark": {"type": "area", "color": "#dedede", "interpolate": "monotone"}, "encoding": {
    "x": {"field": "x", "type": "quantitative", "scale": {"domain": [0, 100], "nice": false}, "axis": {"title": null, "values": [0, 25, 50, 75, 100], "labelExpr": "datum.value == 50 ? '% Stance' : (datum.value == 0 || datum.value == 100) ? datum.label : ''", "labelFlush": false, "labelAlign": {"condition": {"test": "datum.value == 100", "value": "right"}, "value": "center"}, "labelFontSize": 14, "labelPadding": 3}},
    "y": {"field": "l1", "type": "quantitative", "scale": {"domain": [-11.0, 16.8], "nice": false, "zero": false}, "axis": {"title": "Angle (deg)", "titlePadding": 0, "minExtent": 21, "maxExtent": 21, "values": [-11.0, -4.05, 0, 2.9, 9.85, 16.8], "labelExpr": "datum.value == 16.8 ? '16.8' : datum.value == -11 ? '-11.0' : datum.value == 0 ? '0' : ''", "labelFontSize": {"condition": {"test": "datum.value == 0", "value": 18}, "value": 13}, "labelFontWeight": {"condition": {"test": "datum.value == 0", "value": "bold"}, "value": "normal"}, "labelFont": {"condition": {"test": "datum.value == 0", "value": "Liberation Sans"}, "value": "DejaVu Sans Condensed, Roboto, sans-serif"}, "labelPadding": {"condition": {"test": "datum.value == 0", "value": 6}, "value": 2}}},
    "y2": {"field": "h1"}}},
  {"mark": {"type": "area", "color": "#c8c8c8", "opacity": 0.35, "interpolate": "monotone"}, "encoding": {"x": {"field": "x", "type": "quantitative"}, "y": {"field": "l2", "type": "quantitative"}, "y2": {"field": "h2"}}},
  {"data": {"values": [{}]}, "mark": {"type": "rule", "color": "#222222", "strokeWidth": 1}, "encoding": {"y": {"datum": 0}}},
  {"mark": {"type": "line", "color": "#8c8c8c", "strokeWidth": 2, "interpolate": "monotone"}, "encoding": {"x": {"field": "x", "type": "quantitative"}, "y": {"field": "b", "type": "quantitative"}}},
  {"mark": {"type": "line", "color": "#111111", "strokeWidth": 2, "interpolate": "monotone"}, "encoding": {"x": {"field": "x", "type": "quantitative"}, "y": {"field": "a", "type": "quantitative"}}},
  {"data": {"name": "ann"}, "transform": [{"filter": "datum.p == 'kb' && datum.k == 'L'"}], "mark": {"type": "text", "font": "Liberation Sans", "fontWeight": "bold", "fontSize": 28, "align": "left", "baseline": "alphabetic", "color": "#000"}, "encoding": {"x": {"field": "x", "type": "quantitative"}, "y": {"field": "y", "type": "quantitative"}, "text": {"field": "t"}}},
  {"data": {"name": "ann"}, "transform": [{"filter": "datum.p == 'kb' && datum.k == 'T'"}], "mark": {"type": "text", "font": "DejaVu Sans Condensed, Roboto, sans-serif", "fontSize": 14, "align": "center", "baseline": "alphabetic", "color": "#000"}, "encoding": {"x": {"field": "x", "type": "quantitative"}, "y": {"field": "y", "type": "quantitative"}, "text": {"field": "t"}}}
 ]
},
{
 "width": 226, "height": 233,
 "data": {"name": "d"},
 "transform": [{"filter": "datum.p == 'ab'"}],
 "layer": [
  {"mark": {"type": "area", "color": "#dedede", "interpolate": "monotone"}, "encoding": {
    "x": {"field": "x", "type": "quantitative", "scale": {"domain": [0, 100], "nice": false}, "axis": {"title": null, "values": [0, 25, 50, 75, 100], "labelExpr": "datum.value == 50 ? '% Stance' : (datum.value == 0 || datum.value == 100) ? datum.label : ''", "labelFlush": false, "labelAlign": {"condition": {"test": "datum.value == 100", "value": "right"}, "value": "center"}, "labelFontSize": 14, "labelPadding": 3}},
    "y": {"field": "l1", "type": "quantitative", "scale": {"domain": [-23.9, 9.9], "nice": false, "zero": false}, "axis": {"title": "Angle (deg)", "titlePadding": 0, "minExtent": 26, "maxExtent": 26, "values": [-23.9, -15.45, -7.0, 0, 1.45, 9.9], "labelExpr": "datum.value == 9.9 ? '9.9' : datum.value == -23.9 ? '-23.9' : datum.value == 0 ? '0' : ''", "labelFontSize": {"condition": {"test": "datum.value == 0", "value": 18}, "value": 13}, "labelFontWeight": {"condition": {"test": "datum.value == 0", "value": "bold"}, "value": "normal"}, "labelFont": {"condition": {"test": "datum.value == 0", "value": "Liberation Sans"}, "value": "DejaVu Sans Condensed, Roboto, sans-serif"}, "labelPadding": {"condition": {"test": "datum.value == 0", "value": 6}, "value": 2}}},
    "y2": {"field": "h1"}}},
  {"mark": {"type": "area", "color": "#c8c8c8", "opacity": 0.35, "interpolate": "monotone"}, "encoding": {"x": {"field": "x", "type": "quantitative"}, "y": {"field": "l2", "type": "quantitative"}, "y2": {"field": "h2"}}},
  {"data": {"values": [{}]}, "mark": {"type": "rule", "color": "#444444", "strokeWidth": 1}, "encoding": {"y": {"datum": 0}}},
  {"mark": {"type": "line", "color": "#8c8c8c", "strokeWidth": 2, "interpolate": "monotone"}, "encoding": {"x": {"field": "x", "type": "quantitative"}, "y": {"field": "b", "type": "quantitative"}}},
  {"mark": {"type": "line", "color": "#111111", "strokeWidth": 2, "interpolate": "monotone"}, "encoding": {"x": {"field": "x", "type": "quantitative"}, "y": {"field": "a", "type": "quantitative"}}},
  {"data": {"name": "ann"}, "transform": [{"filter": "datum.p == 'ab' && datum.k == 'L'"}], "mark": {"type": "text", "font": "Liberation Sans", "fontWeight": "bold", "fontSize": 28, "align": "left", "baseline": "alphabetic", "color": "#000"}, "encoding": {"x": {"field": "x", "type": "quantitative"}, "y": {"field": "y", "type": "quantitative"}, "text": {"field": "t"}}},
  {"data": {"name": "ann"}, "transform": [{"filter": "datum.p == 'ab' && datum.k == 'T'"}], "mark": {"type": "text", "font": "DejaVu Sans Condensed, Roboto, sans-serif", "fontSize": 14, "align": "center", "baseline": "alphabetic", "color": "#000"}, "encoding": {"x": {"field": "x", "type": "quantitative"}, "y": {"field": "y", "type": "quantitative"}, "text": {"field": "t"}}}
 ]
},
{
 "width": 234, "height": 226,
 "data": {"name": "d"},
 "transform": [{"filter": "datum.p == 'hc'"}],
 "layer": [
  {"mark": {"type": "area", "color": "#dedede", "interpolate": "monotone"}, "encoding": {
    "x": {"field": "x", "type": "quantitative", "scale": {"domain": [0, 100], "nice": false}, "axis": {"title": null, "values": [0, 25, 50, 75, 100], "labelExpr": "datum.value == 50 ? '% Stance' : (datum.value == 0 || datum.value == 100) ? datum.label : ''", "labelFlush": false, "labelAlign": {"condition": {"test": "datum.value == 100", "value": "right"}, "value": "center"}, "labelFontSize": 14, "labelPadding": 3}},
    "y": {"field": "l1", "type": "quantitative", "scale": {"domain": [-30.2, 26.1], "nice": false, "zero": false}, "axis": {"title": "Angle (deg)", "titlePadding": 0, "minExtent": 24, "maxExtent": 24, "values": [-30.2, -16.125, -2.05, 0, 12.025, 26.1], "labelExpr": "datum.value == 26.1 ? '26.1' : datum.value == -30.2 ? '-30.2' : datum.value == 0 ? '0' : ''", "labelFontSize": {"condition": {"test": "datum.value == 0", "value": 18}, "value": 13}, "labelFontWeight": {"condition": {"test": "datum.value == 0", "value": "bold"}, "value": "normal"}, "labelFont": {"condition": {"test": "datum.value == 0", "value": "Liberation Sans"}, "value": "DejaVu Sans Condensed, Roboto, sans-serif"}, "labelPadding": {"condition": {"test": "datum.value == 0", "value": 6}, "value": 2}}},
    "y2": {"field": "h1"}}},
  {"mark": {"type": "area", "color": "#c8c8c8", "opacity": 0.35, "interpolate": "monotone"}, "encoding": {"x": {"field": "x", "type": "quantitative"}, "y": {"field": "l2", "type": "quantitative"}, "y2": {"field": "h2"}}},
  {"data": {"values": [{}]}, "mark": {"type": "rule", "color": "#777777", "strokeWidth": 1}, "encoding": {"y": {"datum": 0}}},
  {"mark": {"type": "line", "color": "#8c8c8c", "strokeWidth": 2, "interpolate": "monotone"}, "encoding": {"x": {"field": "x", "type": "quantitative"}, "y": {"field": "b", "type": "quantitative"}}},
  {"mark": {"type": "line", "color": "#111111", "strokeWidth": 2, "interpolate": "monotone"}, "encoding": {"x": {"field": "x", "type": "quantitative"}, "y": {"field": "a", "type": "quantitative"}}},
  {"data": {"name": "ann"}, "transform": [{"filter": "datum.p == 'hc' && datum.k == 'L'"}], "mark": {"type": "text", "font": "Liberation Sans", "fontWeight": "bold", "fontSize": 25, "align": "left", "baseline": "alphabetic", "color": "#000"}, "encoding": {"x": {"field": "x", "type": "quantitative"}, "y": {"field": "y", "type": "quantitative"}, "text": {"field": "t"}}},
  {"data": {"name": "ann"}, "transform": [{"filter": "datum.p == 'hc' && datum.k == 'T'"}], "mark": {"type": "text", "font": "DejaVu Sans Condensed, Roboto, sans-serif", "fontSize": 14, "align": "center", "baseline": "alphabetic", "color": "#000"}, "encoding": {"x": {"field": "x", "type": "quantitative"}, "y": {"field": "y", "type": "quantitative"}, "text": {"field": "t"}}}
 ]
},
{
 "width": 232, "height": 234,
 "data": {"name": "d"},
 "transform": [{"filter": "datum.p == 'kc'"}],
 "layer": [
  {"mark": {"type": "area", "color": "#dedede", "interpolate": "monotone"}, "encoding": {
    "x": {"field": "x", "type": "quantitative", "scale": {"domain": [0, 100], "nice": false}, "axis": {"title": null, "values": [0, 25, 50, 75, 100], "labelExpr": "datum.value == 50 ? '% Stance' : (datum.value == 0 || datum.value == 100) ? datum.label : ''", "labelFlush": false, "labelAlign": {"condition": {"test": "datum.value == 100", "value": "right"}, "value": "center"}, "labelFontSize": 14, "labelPadding": 3}},
    "y": {"field": "l1", "type": "quantitative", "scale": {"domain": [-23.9, 18.4], "nice": false, "zero": false}, "axis": {"title": "Angle (deg)", "titlePadding": 0, "minExtent": 18, "maxExtent": 18, "values": [-23.9, -13.325, -2.75, 0, 7.825, 18.4], "labelExpr": "datum.value == 18.4 ? '18.4' : datum.value == -23.9 ? '-23.9' : datum.value == 0 ? '0' : ''", "labelFontSize": {"condition": {"test": "datum.value == 0", "value": 18}, "value": 13}, "labelFontWeight": {"condition": {"test": "datum.value == 0", "value": "bold"}, "value": "normal"}, "labelFont": {"condition": {"test": "datum.value == 0", "value": "Liberation Sans"}, "value": "DejaVu Sans Condensed, Roboto, sans-serif"}, "labelPadding": {"condition": {"test": "datum.value == 0", "value": 6}, "value": 2}}},
    "y2": {"field": "h1"}}},
  {"mark": {"type": "area", "color": "#c8c8c8", "opacity": 0.35, "interpolate": "monotone"}, "encoding": {"x": {"field": "x", "type": "quantitative"}, "y": {"field": "l2", "type": "quantitative"}, "y2": {"field": "h2"}}},
  {"data": {"values": [{}]}, "mark": {"type": "rule", "color": "#777777", "strokeWidth": 1}, "encoding": {"y": {"datum": 0}}},
  {"mark": {"type": "line", "color": "#8c8c8c", "strokeWidth": 2, "interpolate": "monotone"}, "encoding": {"x": {"field": "x", "type": "quantitative"}, "y": {"field": "b", "type": "quantitative"}}},
  {"mark": {"type": "line", "color": "#111111", "strokeWidth": 2, "interpolate": "monotone"}, "encoding": {"x": {"field": "x", "type": "quantitative"}, "y": {"field": "a", "type": "quantitative"}}},
  {"data": {"name": "ann"}, "transform": [{"filter": "datum.p == 'kc' && datum.k == 'L'"}], "mark": {"type": "text", "font": "Liberation Sans", "fontWeight": "bold", "fontSize": 25, "align": "left", "baseline": "alphabetic", "color": "#000"}, "encoding": {"x": {"field": "x", "type": "quantitative"}, "y": {"field": "y", "type": "quantitative"}, "text": {"field": "t"}}},
  {"data": {"name": "ann"}, "transform": [{"filter": "datum.p == 'kc' && datum.k == 'T'"}], "mark": {"type": "text", "font": "DejaVu Sans Condensed, Roboto, sans-serif", "fontSize": 14, "align": "center", "baseline": "alphabetic", "color": "#000"}, "encoding": {"x": {"field": "x", "type": "quantitative"}, "y": {"field": "y", "type": "quantitative"}, "text": {"field": "t"}}}
 ]
},
{
 "width": 232, "height": 237,
 "data": {"name": "d"},
 "transform": [{"filter": "datum.p == 'ac'"}],
 "layer": [
  {"mark": {"type": "area", "color": "#dedede", "interpolate": "monotone"}, "encoding": {
    "x": {"field": "x", "type": "quantitative", "scale": {"domain": [0, 100], "nice": false}, "axis": {"title": null, "values": [0, 25, 50, 75, 100], "labelExpr": "datum.value == 50 ? '% Stance' : (datum.value == 0 || datum.value == 100) ? datum.label : ''", "labelFlush": false, "labelAlign": {"condition": {"test": "datum.value == 100", "value": "right"}, "value": "center"}, "labelFontSize": 14, "labelPadding": 3}},
    "y": {"field": "l1", "type": "quantitative", "scale": {"domain": [-23.2, 12.0], "nice": false, "zero": false}, "axis": {"title": "Angle (deg)", "titlePadding": 0, "minExtent": 24, "maxExtent": 24, "values": [-23.2, -14.4, -5.6, 0, 3.2, 12.0], "labelExpr": "datum.value == 12 ? '12.0' : datum.value == -23.2 ? '-23.2' : datum.value == 0 ? '0' : ''", "labelFontSize": {"condition": {"test": "datum.value == 0", "value": 18}, "value": 13}, "labelFontWeight": {"condition": {"test": "datum.value == 0", "value": "bold"}, "value": "normal"}, "labelFont": {"condition": {"test": "datum.value == 0", "value": "Liberation Sans"}, "value": "DejaVu Sans Condensed, Roboto, sans-serif"}, "labelPadding": {"condition": {"test": "datum.value == 0", "value": 6}, "value": 2}}},
    "y2": {"field": "h1"}}},
  {"mark": {"type": "area", "color": "#c8c8c8", "opacity": 0.35, "interpolate": "monotone"}, "encoding": {"x": {"field": "x", "type": "quantitative"}, "y": {"field": "l2", "type": "quantitative"}, "y2": {"field": "h2"}}},
  {"data": {"values": [{}]}, "mark": {"type": "rule", "color": "#777777", "strokeWidth": 1}, "encoding": {"y": {"datum": 0}}},
  {"mark": {"type": "line", "color": "#8c8c8c", "strokeWidth": 2, "interpolate": "monotone"}, "encoding": {"x": {"field": "x", "type": "quantitative"}, "y": {"field": "b", "type": "quantitative"}}},
  {"mark": {"type": "line", "color": "#111111", "strokeWidth": 2, "interpolate": "monotone"}, "encoding": {"x": {"field": "x", "type": "quantitative"}, "y": {"field": "a", "type": "quantitative"}}},
  {"data": {"name": "ann"}, "transform": [{"filter": "datum.p == 'ac' && datum.k == 'L'"}], "mark": {"type": "text", "font": "Liberation Sans", "fontWeight": "bold", "fontSize": 25, "align": "left", "baseline": "alphabetic", "color": "#000"}, "encoding": {"x": {"field": "x", "type": "quantitative"}, "y": {"field": "y", "type": "quantitative"}, "text": {"field": "t"}}},
  {"data": {"name": "ann"}, "transform": [{"filter": "datum.p == 'ac' && datum.k == 'T'"}], "mark": {"type": "text", "font": "DejaVu Sans Condensed, Roboto, sans-serif", "fontSize": 14, "align": "center", "baseline": "alphabetic", "color": "#000"}, "encoding": {"x": {"field": "x", "type": "quantitative"}, "y": {"field": "y", "type": "quantitative"}, "text": {"field": "t"}}}
 ]
}
]
}
